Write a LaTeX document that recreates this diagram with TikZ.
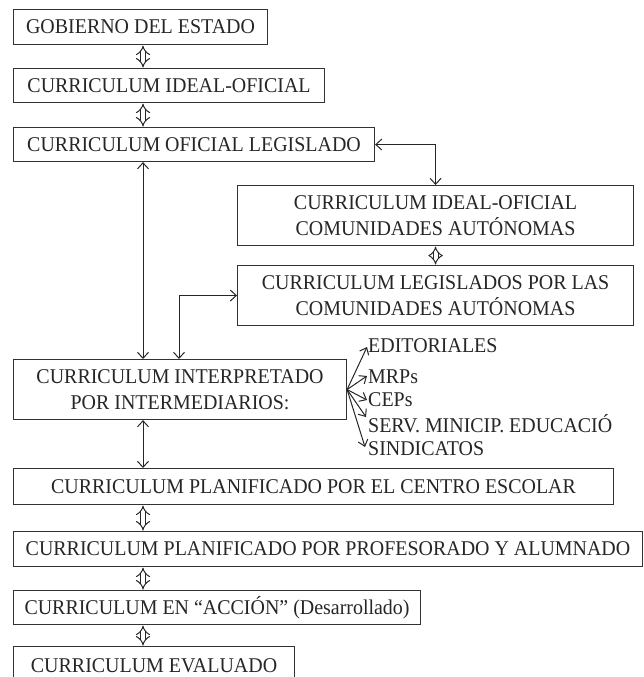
\documentclass[tikz,border=0pt]{standalone}
\usepackage{fontspec}
\setmainfont{Liberation Serif}[FakeStretch=0.95]
\usetikzlibrary{arrows.meta,calc}

\tikzset{
  box/.style={draw=black!80, line width=1.1pt, anchor=north west, inner sep=0pt,
    align=center, text=black!85,
    font=\fontsize{21}{26}\selectfont},
  item/.style={anchor=west, inner sep=0pt, text=black!85,
    font=\fontsize{21}{26}\selectfont},
  link/.style={draw=black!85, line width=1pt,
    {Straight Barb[length=6pt,width=11pt]}-{Straight Barb[length=6pt,width=11pt]}},
  fan/.style={draw=black!85, line width=1pt,
    -{Straight Barb[length=6pt,width=10pt]}},
  hollow/.style={draw=black!85, line width=1pt, double, double distance=4pt,
    {Implies[length=8pt]}-{Implies[length=8pt]}, shorten <=0.5pt, shorten >=0.5pt}
}

\begin{document}
\begin{tikzpicture}[x=1pt,y=-1pt]
\useasboundingbox (0,0) rectangle (644,677);
\clip (0,0) rectangle (644,677);

% boxes of the hierarchy
\node[box, minimum width=254pt, minimum height=35pt] (b1) at (13,9) {GOBIERNO DEL ESTADO};
\node[box, minimum width=311pt, minimum height=34pt] (b2) at (13,68) {CURRICULUM IDEAL-OFICIAL};
\node[box, minimum width=361pt, minimum height=34pt] (b3) at (13,127) {CURRICULUM OFICIAL LEGISLADO};
\node[box, minimum width=396pt, minimum height=60pt] (b4) at (237,185) {CURRICULUM IDEAL-OFICIAL\\COMUNIDADES AUTÓNOMAS};
\node[box, minimum width=396pt, minimum height=60pt] (b5) at (237,265) {CURRICULUM LEGISLADOS POR LAS\\COMUNIDADES AUTÓNOMAS};
\node[box, minimum width=333pt, minimum height=60pt] (b6) at (13,359) {CURRICULUM INTERPRETADO\\POR INTERMEDIARIOS:};
\node[box, minimum width=600pt, minimum height=36pt] (b7) at (13,468) {CURRICULUM PLANIFICADO POR EL CENTRO ESCOLAR};
\node[box, minimum width=629pt, minimum height=35pt] (b8) at (13,531) {CURRICULUM PLANIFICADO POR PROFESORADO Y ALUMNADO};
\node[box, minimum width=407pt, minimum height=34pt] (b9) at (13,590) {CURRICULUM EN “ACCIÓN” (Desarrollado)};
\node[box, minimum width=281pt, minimum height=38pt] (b10) at (13,646) {CURRICULUM EVALUADO};

% intermediaries
\node[item] (i1) at (368,346) {EDITORIALES};
\node[item] (i2) at (368,377) {MRPs};
\node[item] (i3) at (368,400) {CEPs};
\node[item] (i4) at (368,424) {SERV. MINICIP. EDUCACIÓ};
\node[item] (i5) at (368,449) {SINDICATOS};

% vertical axes of the connectors
\coordinate (ax) at (143,0);
\coordinate (ax2) at (179,0);

% hollow two-way arrows
\draw[hollow] (b1.south -| ax) -- (b2.north -| ax);
\draw[hollow] (b2.south -| ax) -- (b3.north -| ax);
\draw[hollow] (b4.south) -- (b5.north);
\draw[hollow] (b7.south -| ax) -- (b8.north -| ax);
\draw[hollow] (b8.south -| ax) -- (b9.north -| ax);
\draw[hollow] (b9.south -| ax) -- (b10.north -| ax);

% plain two-way arrows
\draw[link] (b3.south -| ax) -- (b6.north -| ax);
\draw[link] (b3.east) -| (b4.north);
\draw[link] (b6.north -| ax2) |- (b5.west);
\draw[link] (b6.south -| ax) -- (b7.north -| ax);

% fan towards the intermediaries
\draw[fan] (b6.east) -- ($(i1.west)+(-1,1)$);
\draw[fan] (b6.east) -- ($(i2.west)+(-1,-1)$);
\draw[fan] (b6.east) -- ($(i3.west)+(-1,0)$);
\draw[fan] (b6.east) -- ($(i4.west)+(-2,-7)$);
\draw[fan] (b6.east) -- ($(i5.west)+(-3,-2)$);
\end{tikzpicture}
\end{document}
